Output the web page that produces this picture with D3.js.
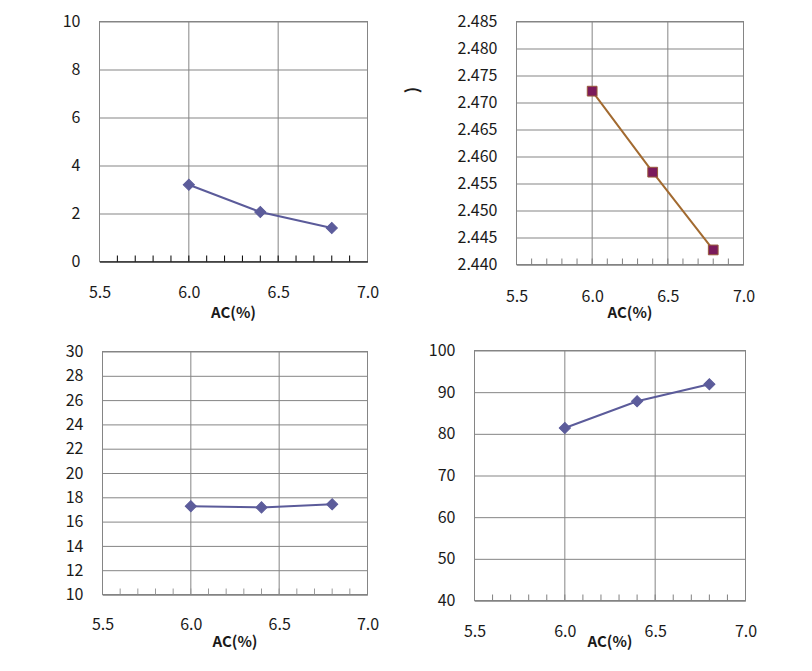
<!DOCTYPE html>
<html><head><meta charset="utf-8">
<script src="https://cdn.jsdelivr.net/npm/d3@7"></script>
<style>
body{margin:0;background:#fff;}
svg text{font-family:"Noto Sans CJK KR","Open Sans",sans-serif;}
</style></head>
<body><svg id="c" width="812" height="671"></svg>
<script>
const acValues = [6.0, 6.4, 6.8];
const xTicks = [5.5, 6.0, 6.5, 7.0];
const seriesA = [3.2, 2.06, 1.4];
const seriesB = [2.4721, 2.4571, 2.4427];
const seriesC = [17.27, 17.17, 17.42];
const seriesD = [81.4, 87.8, 91.9];
const yTicksA = [0, 2, 4, 6, 8, 10];
const yTicksB = [2.440, 2.445, 2.450, 2.455, 2.460, 2.465, 2.470, 2.475, 2.480, 2.485];
const yTicksC = [10, 12, 14, 16, 18, 20, 22, 24, 26, 28, 30];
const yTicksD = [40, 50, 60, 70, 80, 90, 100];
const xLabel = "AC(%)";

const panels = [
  {data: seriesA, yt: yTicksA, fmt: d3.format("d"), l: 99.5, r: 367.5, t: 21.5, b: 261.5, xPad: 25, labY: 318, axisCol: "#000", minorCol: "#000", line: "#5b5b9a", fill: "#5c5c9b", stroke: "#5c5c9b", shape: "diamond"},
  {data: seriesB, yt: yTicksB, fmt: d3.format(".3f"), l: 516.5, r: 743.5, t: 21.5, b: 264.5, xPad: 26, labY: 318, axisCol: "#808080", minorCol: "#808080", line: "#a26a30", fill: "#7b1a5b", stroke: "#9a5a3a", shape: "square"},
  {data: seriesC, yt: yTicksC, fmt: d3.format("d"), l: 102.5, r: 367.5, t: 351.5, b: 594.5, xPad: 24, labY: 647, axisCol: "#808080", minorCol: "#9a9a9a", line: "#5b5b9a", fill: "#5c5c9b", stroke: "#5c5c9b", shape: "diamond"},
  {data: seriesD, yt: yTicksD, fmt: d3.format("d"), l: 474.5, r: 745.5, t: 350.5, b: 600.5, xPad: 25, labY: 647, axisCol: "#808080", minorCol: "#808080", line: "#5b5b9a", fill: "#5c5c9b", stroke: "#5c5c9b", shape: "diamond"}
];

const svg = d3.select("#c");

panels.forEach(p => {
  const x = d3.scaleLinear().domain([xTicks[0], xTicks[xTicks.length-1]]).range([p.l, p.r]);
  const y = d3.scaleLinear().domain([p.yt[0], p.yt[p.yt.length-1]]).range([p.b, p.t]);
  const g = svg.append("g");
  const w = p.r - p.l;

  const ya = g.append("g").attr("transform", `translate(${p.l},0)`)
    .call(d3.axisLeft(y).tickValues(p.yt).tickFormat(p.fmt).tickSize(-w).tickPadding(19));
  ya.select(".domain").remove();
  ya.selectAll("line").attr("stroke", "#858585");
  ya.selectAll("text").attr("font-size", 16).attr("fill", "#1a1a1a");

  g.selectAll(".vg").data(xTicks.slice(1, -1)).join("line")
    .attr("x1", d => x(d)).attr("x2", d => x(d)).attr("y1", p.t).attr("y2", p.b)
    .attr("stroke", "#858585");

  g.append("rect").attr("x", p.l).attr("y", p.t).attr("width", w).attr("height", p.b - p.t)
    .attr("fill", "none").attr("stroke", "#858585");

  const minor = d3.range(56, 70).map(v => v / 10);
  g.selectAll(".mt").data(minor).join("line")
    .attr("x1", d => x(d)).attr("x2", d => x(d)).attr("y1", p.b).attr("y2", p.b - 6)
    .attr("stroke", p.minorCol);

  const xa = g.append("g").attr("transform", `translate(0,${p.b})`)
    .call(d3.axisBottom(x).tickValues(xTicks).tickFormat(d3.format(".1f")).tickSize(0).tickPadding(p.xPad));
  xa.select(".domain").attr("stroke", p.axisCol);
  xa.selectAll("text").attr("font-size", 16).attr("fill", "#1a1a1a");

  g.append("text").attr("x", (p.l + p.r) / 2)
    .attr("y", p.labY).attr("text-anchor", "middle")
    .attr("font-size", 15).attr("font-weight", "bold").attr("fill", "#1a1a1a")
    .text(xLabel);

  const pts = acValues.map((a, i) => [a, p.data[i]]);
  g.append("path").datum(pts)
    .attr("d", d3.line().x(d => x(d[0])).y(d => y(d[1])))
    .attr("fill", "none").attr("stroke", p.line).attr("stroke-width", 2);

  const sq = p.shape === "square";
  g.selectAll(".pt").data(pts).join("path")
    .attr("transform", d => `translate(${x(d[0])},${y(d[1])}) rotate(${sq ? 0 : 45})`)
    .attr("d", d3.symbol().type(d3.symbolSquare).size(sq ? 95 : 62))
    .attr("fill", p.fill).attr("stroke", p.stroke).attr("stroke-width", 1);
});

svg.append("text").attr("transform", "translate(410,90) rotate(-90)")
  .attr("text-anchor", "middle").attr("dominant-baseline", "central")
  .attr("font-size", 17).attr("font-weight", "bold")
  .attr("fill", "#1a1a1a").text(")");
</script>
</body></html>
